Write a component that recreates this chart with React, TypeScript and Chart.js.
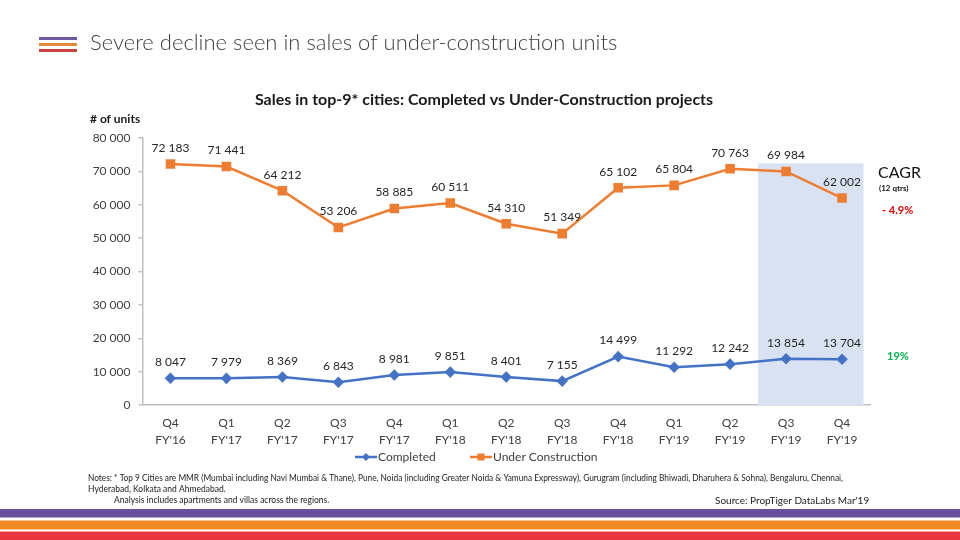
import React, { useEffect, useRef } from "react";
import { Chart, registerables } from "chart.js";

Chart.register(...registerables);

const quarters = ["Q4", "Q1", "Q2", "Q3", "Q4", "Q1", "Q2", "Q3", "Q4", "Q1", "Q2", "Q3", "Q4"];
const fiscalYears = ["FY'16", "FY'17", "FY'17", "FY'17", "FY'17", "FY'18", "FY'18", "FY'18", "FY'18", "FY'19", "FY'19", "FY'19", "FY'19"];
const completed = [8047, 7979, 8369, 6843, 8981, 9851, 8401, 7155, 14499, 11292, 12242, 13854, 13704];
const underConstruction = [72183, 71441, 64212, 53206, 58885, 60511, 54310, 51349, 65102, 65804, 70763, 69984, 62002];
const yTicks = [0, 10000, 20000, 30000, 40000, 50000, 60000, 70000, 80000];
const highlightFrom = 11;
const highlightTop = 72400;
const cagrCompleted = "19%";
const cagrUnder = "- 4.9%";

const pageTitle = "Severe decline seen in sales of under-construction units";
const chartTitle = "Sales in top-9* cities: Completed vs Under-Construction projects";
const notes = [
  "Notes: * Top 9 Cities are MMR (Mumbai including Navi Mumbai & Thane), Pune, Noida (including Greater Noida & Yamuna Expressway), Gurugram (including Bhiwadi, Dharuhera & Sohna), Bengaluru, Chennai,",
  "Hyderabad, Kolkata and Ahmedabad.",
  "Analysis includes apartments and villas across the regions.",
];
const source = "Source: PropTiger DataLabs Mar'19";

const BLUE = "#4472C4";
const ORANGE = "#ED7D31";
const FONT = "Lato, 'Open Sans', sans-serif";

const fmt = (v: number) => String(Math.round(v)).replace(/\B(?=(\d{3})+(?!\d))/g, " ");

const decorPlugin = {
  id: "decor",
  beforeDatasetsDraw(chart: any) {
    const { ctx, scales } = chart;
    const x = scales.x;
    const y = scales.y;
    const w = x.getPixelForValue(1) - x.getPixelForValue(0);
    const left = x.getPixelForValue(highlightFrom) - w / 2;
    const right = x.getPixelForValue(quarters.length - 1) + w * 0.385;
    const top = y.getPixelForValue(highlightTop);
    const bottom = y.getPixelForValue(0);
    ctx.save();
    ctx.fillStyle = "#D9E2F3";
    ctx.fillRect(left, top, right - left, bottom - top);
    ctx.restore();
  },
  afterDatasetsDraw(chart: any) {
    const { ctx } = chart;
    ctx.save();
    ctx.font = `12px ${FONT}`;
    ctx.fillStyle = "#262626";
    ctx.textAlign = "center";
    ctx.textBaseline = "middle";
    chart.data.datasets.forEach((ds: any, i: number) => {
      const meta = chart.getDatasetMeta(i);
      meta.data.forEach((pt: any, j: number) => {
        ctx.fillText(fmt(ds.data[j]), pt.x, pt.y - 16);
      });
    });
    ctx.restore();
  },
  afterDraw(chart: any) {
    const { ctx } = chart;
    ctx.save();
    // icon
    const iconColors = ["#6B5B9E", "#E08A3C", "#C8443F"];
    iconColors.forEach((c, i) => {
      ctx.fillStyle = c;
      ctx.fillRect(39, 37 + i * 6, 38, 3);
    });
    ctx.textBaseline = "middle";
    ctx.textAlign = "left";
    ctx.fillStyle = "#3F3F3F";
    ctx.font = `300 22px ${FONT}`;
    ctx.fillText(pageTitle, 90, 43, 536);

    ctx.textAlign = "center";
    ctx.fillStyle = "#1A1A1A";
    ctx.font = `bold 16px ${FONT}`;
    ctx.fillText(chartTitle, 484, 100, 465);

    ctx.textAlign = "left";
    ctx.font = `bold 12px ${FONT}`;
    ctx.fillText("# of units", 90, 119);

    // CAGR
    ctx.font = `16px ${FONT}`;
    ctx.fillStyle = "#111";
    ctx.fillText("CAGR", 878, 173);
    ctx.font = `bold 8px ${FONT}`;
    ctx.fillText("(12 qtrs)", 879, 188);
    ctx.font = `bold 11px ${FONT}`;
    ctx.fillStyle = "#E00000";
    ctx.fillText(cagrUnder, 882, 210);
    ctx.fillStyle = "#00B050";
    ctx.fillText(cagrCompleted, 887, 356);

    // legend
    const legendY = 457;
    const items = [
      { label: "Completed", color: BLUE, x: 355, shape: "diamond" },
      { label: "Under Construction", color: ORANGE, x: 470, shape: "square" },
    ];
    ctx.font = `12px ${FONT}`;
    items.forEach((it) => {
      ctx.strokeStyle = it.color;
      ctx.lineWidth = 2.5;
      ctx.beginPath();
      ctx.moveTo(it.x, legendY);
      ctx.lineTo(it.x + 22, legendY);
      ctx.stroke();
      ctx.fillStyle = it.color;
      const cx = it.x + 11;
      if (it.shape === "diamond") {
        ctx.beginPath();
        ctx.moveTo(cx - 4, legendY);
        ctx.lineTo(cx, legendY - 4);
        ctx.lineTo(cx + 4, legendY);
        ctx.lineTo(cx, legendY + 4);
        ctx.closePath();
        ctx.fill();
      } else {
        ctx.fillRect(cx - 3.5, legendY - 3.5, 7, 7);
      }
      ctx.fillStyle = "#404040";
      ctx.fillText(it.label, it.x + 23, legendY);
    });

    // notes
    ctx.fillStyle = "#222";
    ctx.font = `8.5px ${FONT}`;
    ctx.fillText(notes[0], 88, 478, 755);
    ctx.fillText(notes[1], 88, 489);
    ctx.fillText(notes[2], 114, 500);
    ctx.font = `10px ${FONT}`;
    ctx.fillText(source, 715, 501, 155);

    // bottom stripes
    ctx.fillStyle = "#6750A0";
    ctx.fillRect(0, 509, 960, 8.5);
    ctx.fillStyle = "#F28A25";
    ctx.fillRect(0, 520.5, 960, 9);
    ctx.fillStyle = "#E8353D";
    ctx.fillRect(0, 531.5, 960, 8.5);
    ctx.restore();
  },
};

export default function App() {
  const ref = useRef<HTMLCanvasElement | null>(null);
  useEffect(() => {
    if (!ref.current) return;
    const chart = new Chart(ref.current, {
      type: "line",
      data: {
        labels: quarters.map((q, i) => [q, fiscalYears[i]]),
        datasets: [
          {
            label: "Completed",
            data: completed,
            borderColor: BLUE,
            backgroundColor: BLUE,
            borderWidth: 2.5,
            pointStyle: "rectRot",
            pointRadius: 4,
            pointHoverRadius: 4,
          },
          {
            label: "Under Construction",
            data: underConstruction,
            borderColor: ORANGE,
            backgroundColor: ORANGE,
            borderWidth: 2.5,
            pointStyle: "rect",
            pointRadius: 5,
            pointHoverRadius: 5,
          },
        ],
      },
      options: {
        responsive: false,
        animation: false,
        layout: { padding: { left: 0, right: 90, top: 138, bottom: 0 } },
        plugins: {
          legend: { display: false },
          tooltip: { enabled: false },
          title: { display: false },
        },
        scales: {
          x: {
            type: "category",
            offset: true,
            grid: { display: false },
            border: { display: true, color: "#BFBFBF", width: 1.5 },
            ticks: {
              color: "#404040",
              font: { family: FONT, size: 12, lineHeight: 1.4 },
              padding: 2,
              maxRotation: 0,
              autoSkip: false,
            },
            afterFit: (s: any) => {
              s.height = 135;
            },
          },
          y: {
            min: 0,
            max: 80000,
            afterBuildTicks: (s: any) => {
              s.ticks = yTicks.map((v) => ({ value: v }));
            },
            grid: { drawOnChartArea: false, drawTicks: true, tickLength: 4, color: "#BFBFBF", lineWidth: 1.5 },
            border: { display: true, color: "#BFBFBF", width: 1.5 },
            ticks: {
              color: "#404040",
              font: { family: FONT, size: 12 },
              padding: 8,
              callback: (v: any) => fmt(Number(v)),
            },
            afterFit: (s: any) => {
              s.width = 142.5;
            },
          },
        },
      },
      plugins: [decorPlugin],
    } as any);
    return () => chart.destroy();
  }, []);
  return (
    <div style={{ position: "absolute", left: 0, top: 0, width: 960, height: 540, background: "#fff" }}>
      <canvas ref={ref} width={960} height={540} style={{ display: "block" }} />
    </div>
  );
}
